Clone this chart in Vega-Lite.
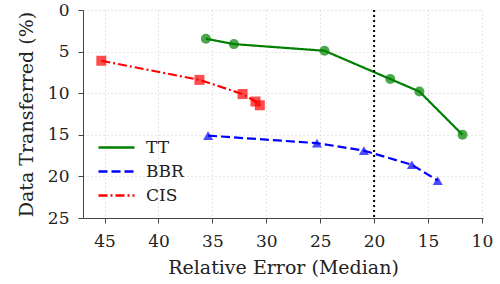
{
  "$schema": "https://vega.github.io/schema/vega-lite/v6.json",
  "autosize": {"type": "none"},
  "width": 400,
  "height": 208,
  "padding": {"left": 83, "top": 10, "right": 17, "bottom": 66},
  "background": "white",
  "config": {
    "view": {"stroke": null},
    "font": "DejaVu Serif",
    "axis": {
      "labelFont": "DejaVu Serif",
      "titleFont": "DejaVu Serif",
      "labelFontSize": 17,
      "titleFontSize": 19,
      "titleFontWeight": "normal",
      "labelColor": "#222",
      "titleColor": "#222",
      "domainColor": "#444",
      "tickColor": "#444",
      "tickSize": 5,
      "gridColor": "#cccccc",
      "gridDash": [1, 3],
      "gridWidth": 1
    },
    "legend": {"labelFont": "DejaVu Serif", "labelFontSize": 17, "labelColor": "#222", "padding": 0}
  },
  "datasets": {
    "pts": [
      {"series": "TT", "err": 35.6, "data": 3.45},
      {"series": "TT", "err": 33.0, "data": 4.1},
      {"series": "TT", "err": 24.6, "data": 4.9},
      {"series": "TT", "err": 18.5, "data": 8.3},
      {"series": "TT", "err": 15.8, "data": 9.8},
      {"series": "TT", "err": 11.8, "data": 15.0},
      {"series": "BBR", "err": 35.4, "data": 15.1},
      {"series": "BBR", "err": 25.3, "data": 16.0},
      {"series": "BBR", "err": 20.95, "data": 16.9},
      {"series": "BBR", "err": 16.5, "data": 18.6},
      {"series": "BBR", "err": 14.1, "data": 20.5},
      {"series": "CIS", "err": 45.3, "data": 6.1},
      {"series": "CIS", "err": 36.2, "data": 8.4},
      {"series": "CIS", "err": 32.2, "data": 10.1},
      {"series": "CIS", "err": 31.0, "data": 11.0},
      {"series": "CIS", "err": 30.6, "data": 11.45}
    ]
  },
  "layer": [
    {
      "data": {"name": "pts"},
      "mark": {"type": "line", "strokeWidth": 2.2},
      "encoding": {
        "x": {"field": "err", "type": "quantitative",
              "scale": {"domain": [47, 9.9], "nice": false, "zero": false},
              "axis": {"values": [45, 40, 35, 30, 25, 20, 15, 10], "title": "Relative Error (Median)", "titlePadding": 9, "labelPadding": 10}},
        "y": {"field": "data", "type": "quantitative",
              "scale": {"domain": [25, 0], "nice": false},
              "axis": {"values": [0, 5, 10, 15, 20, 25], "title": "Data Transferred (%)", "titlePadding": 11, "labelPadding": 9}},
        "color": {"field": "series", "type": "nominal",
                  "scale": {"domain": ["TT", "BBR", "CIS"], "range": ["green", "blue", "red"]},
                  "legend": {"title": null, "orient": "none", "legendX": 23, "legendY": 127,
                             "symbolType": "M-2,0H2", "symbolSize": 324, "symbolStrokeWidth": 2.5,
                             "rowPadding": 5, "labelOffset": 19}},
        "strokeDash": {"field": "series", "type": "nominal",
                       "scale": {"domain": ["TT", "BBR", "CIS"], "range": [[1, 0], [9, 4], [9, 3, 2, 3]]},
                       "legend": null},
        "order": {"field": "err", "type": "quantitative", "sort": "descending"}
      }
    },
    {
      "data": {"name": "pts"},
      "mark": {"type": "point", "filled": true, "opacity": 0.7},
      "encoding": {
        "x": {"field": "err", "type": "quantitative"},
        "y": {"field": "data", "type": "quantitative"},
        "color": {"field": "series", "type": "nominal",
                  "scale": {"domain": ["TT", "BBR", "CIS"], "range": ["green", "blue", "red"]},
                  "legend": null},
        "shape": {"field": "series", "type": "nominal",
                  "scale": {"domain": ["TT", "BBR", "CIS"], "range": ["circle", "triangle-up", "square"]},
                  "legend": null},
        "size": {"value": 100}
      }
    },
    {
      "data": {"values": [{"x": 20}]},
      "mark": {"type": "rule", "color": "black", "strokeWidth": 2, "strokeDash": [2, 3]},
      "encoding": {"x": {"field": "x", "type": "quantitative"}}
    }
  ],
  "resolve": {"scale": {"color": "independent", "shape": "independent", "strokeDash": "independent"}, "legend": {"color": "independent"}}
}
